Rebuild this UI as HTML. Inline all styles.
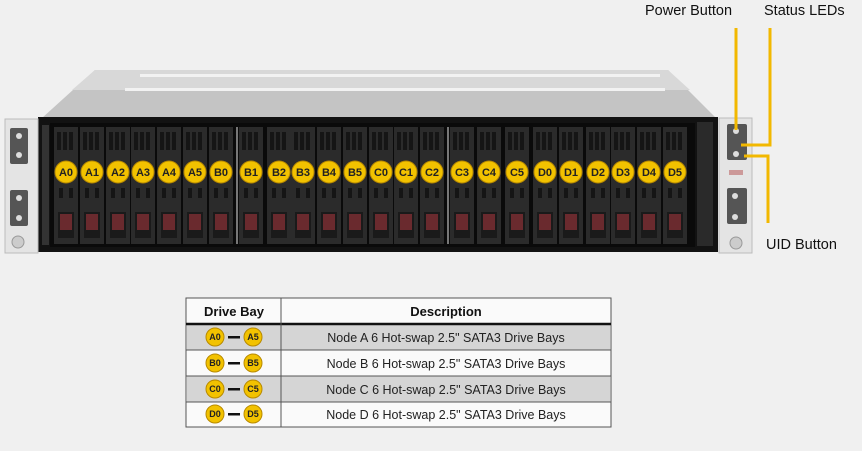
<!DOCTYPE html>
<html><head><style>
html,body{margin:0;padding:0;background:#f0f0f0;}
svg{display:block;font-family:"Liberation Sans",sans-serif;}
</style></head><body>
<svg width="862" height="451" viewBox="0 0 862 451" xmlns="http://www.w3.org/2000/svg">
<defs>
<g id="bay">
<rect x="-12" y="127" width="24" height="117" fill="#2b2b2b"/>
<rect x="-9" y="132" width="4" height="18" fill="#151515"/><rect x="-3" y="132" width="4" height="18" fill="#151515"/><rect x="3" y="132" width="4" height="18" fill="#151515"/>
<rect x="-7" y="188" width="4" height="10" fill="#151515"/><rect x="3" y="188" width="4" height="10" fill="#151515"/>
<rect x="-8" y="212" width="16" height="26" fill="#1a1a1a"/>
<rect x="-6" y="214" width="12" height="16" fill="#6a2a2e"/>
</g>
<g id="bdg"><circle r="11" fill="#f2c200" stroke="#b88a00" stroke-width="1"/></g>
</defs>
<!-- lid -->
<polygon points="42,118 95,70 668,70 716,118" fill="#c4c4c4"/>
<polygon points="95,70 668,70 690,90 72,90" fill="#d8d8d8"/>
<rect x="140" y="74" width="520" height="3" fill="#f2f2f2"/>
<rect x="125" y="88" width="540" height="3" fill="#f2f2f2"/>
<!-- front -->
<rect x="38" y="117" width="680" height="135" fill="#121212"/>
<rect x="50" y="123" width="645" height="124" fill="#0a0a0a"/>
<rect x="42" y="125" width="7" height="120" fill="#333"/>
<rect x="697" y="122" width="16" height="124" fill="#2a2a2a"/>
<!-- ears -->
<rect x="5" y="119" width="33" height="134" fill="#e4e4e4" stroke="#bbb"/>
<rect x="10" y="128" width="18" height="36" rx="2" fill="#555"/>
<rect x="10" y="190" width="18" height="36" rx="2" fill="#555"/>
<circle cx="19" cy="136" r="3" fill="#ddd"/><circle cx="19" cy="155" r="3" fill="#ddd"/>
<circle cx="19" cy="198" r="3" fill="#ddd"/><circle cx="19" cy="218" r="3" fill="#ddd"/>
<circle cx="18" cy="242" r="6" fill="#ccc" stroke="#999"/>
<rect x="719" y="118" width="33" height="135" fill="#e4e4e4" stroke="#bbb"/>
<rect x="727" y="124" width="20" height="36" rx="2" fill="#555"/>
<rect x="727" y="188" width="20" height="36" rx="2" fill="#555"/>
<circle cx="736" cy="131" r="3" fill="#ddd"/><circle cx="736" cy="154" r="3" fill="#ddd"/>
<circle cx="735" cy="196" r="3" fill="#ddd"/><circle cx="735" cy="217" r="3" fill="#ddd"/>
<rect x="729" y="170" width="14" height="5" fill="#c99"/>
<circle cx="736" cy="243" r="6" fill="#ccc" stroke="#999"/>
<!-- bays -->
<use href="#bay" x="66"/><use href="#bay" x="92"/><use href="#bay" x="118"/><use href="#bay" x="143"/><use href="#bay" x="169"/><use href="#bay" x="195"/><use href="#bay" x="221"/>
<rect x="236" y="127" width="2" height="117" fill="#777"/>
<use href="#bay" x="251"/><use href="#bay" x="279"/><use href="#bay" x="303"/><use href="#bay" x="329"/><use href="#bay" x="355"/><use href="#bay" x="381"/><use href="#bay" x="406"/><use href="#bay" x="432"/>
<rect x="447" y="127" width="2" height="117" fill="#777"/>
<use href="#bay" x="462"/><use href="#bay" x="489"/><use href="#bay" x="517"/><use href="#bay" x="545"/><use href="#bay" x="571"/><use href="#bay" x="598"/><use href="#bay" x="623"/><use href="#bay" x="649"/><use href="#bay" x="675"/>
<g>
<use href="#bdg" x="66" y="172"/><use href="#bdg" x="92" y="172"/><use href="#bdg" x="118" y="172"/><use href="#bdg" x="143" y="172"/><use href="#bdg" x="169" y="172"/><use href="#bdg" x="195" y="172"/><use href="#bdg" x="221" y="172"/><use href="#bdg" x="251" y="172"/><use href="#bdg" x="279" y="172"/><use href="#bdg" x="303" y="172"/><use href="#bdg" x="329" y="172"/><use href="#bdg" x="355" y="172"/><use href="#bdg" x="381" y="172"/><use href="#bdg" x="406" y="172"/><use href="#bdg" x="432" y="172"/><use href="#bdg" x="462" y="172"/><use href="#bdg" x="489" y="172"/><use href="#bdg" x="517" y="172"/><use href="#bdg" x="545" y="172"/><use href="#bdg" x="571" y="172"/><use href="#bdg" x="598" y="172"/><use href="#bdg" x="623" y="172"/><use href="#bdg" x="649" y="172"/><use href="#bdg" x="675" y="172"/>
</g>
<g font-size="11" font-weight="bold" fill="#222" text-anchor="middle">
<text x="66" y="176">A0</text><text x="92" y="176">A1</text><text x="118" y="176">A2</text><text x="143" y="176">A3</text><text x="169" y="176">A4</text><text x="195" y="176">A5</text><text x="221" y="176">B0</text><text x="251" y="176">B1</text><text x="279" y="176">B2</text><text x="303" y="176">B3</text><text x="329" y="176">B4</text><text x="355" y="176">B5</text><text x="381" y="176">C0</text><text x="406" y="176">C1</text><text x="432" y="176">C2</text><text x="462" y="176">C3</text><text x="489" y="176">C4</text><text x="517" y="176">C5</text><text x="545" y="176">D0</text><text x="571" y="176">D1</text><text x="598" y="176">D2</text><text x="623" y="176">D3</text><text x="649" y="176">D4</text><text x="675" y="176">D5</text>
</g>
<g stroke="#f2b800" stroke-width="3" fill="none">
<path d="M736 28 V130"/>
<path d="M770 28 V145 H741"/>
<path d="M744 156 H768 V223"/>
</g>
<g font-size="14.5" fill="#111">
<text x="645" y="15">Power Button</text>
<text x="764" y="15">Status LEDs</text>
<text x="766" y="249">UID Button</text>
</g>
<!-- table -->
<rect x="186" y="298" width="425" height="129" fill="#fafafa" stroke="#555"/>
<rect x="187" y="324" width="423" height="26" fill="#d5d5d5"/>
<rect x="187" y="376" width="423" height="26" fill="#d5d5d5"/>
<g stroke="#555" stroke-width="1">
<line x1="186" y1="324" x2="611" y2="324" stroke-width="2.5" stroke="#111"/>
<line x1="186" y1="350" x2="611" y2="350"/>
<line x1="186" y1="376" x2="611" y2="376"/>
<line x1="186" y1="402" x2="611" y2="402"/>
<line x1="281" y1="298" x2="281" y2="427"/>
</g>
<g font-size="13" font-weight="bold" fill="#111" text-anchor="middle">
<text x="234" y="316">Drive Bay</text><text x="446" y="316">Description</text>
</g>
<g>
<circle cx="215" cy="337" r="9" fill="#f2c200" stroke="#b88a00"/><circle cx="253" cy="337" r="9" fill="#f2c200" stroke="#b88a00"/>
<circle cx="215" cy="363" r="9" fill="#f2c200" stroke="#b88a00"/><circle cx="253" cy="363" r="9" fill="#f2c200" stroke="#b88a00"/>
<circle cx="215" cy="389" r="9" fill="#f2c200" stroke="#b88a00"/><circle cx="253" cy="389" r="9" fill="#f2c200" stroke="#b88a00"/>
<circle cx="215" cy="414" r="9" fill="#f2c200" stroke="#b88a00"/><circle cx="253" cy="414" r="9" fill="#f2c200" stroke="#b88a00"/>
<rect x="228" y="336" width="12" height="2.5" fill="#111"/><rect x="228" y="362" width="12" height="2.5" fill="#111"/><rect x="228" y="388" width="12" height="2.5" fill="#111"/><rect x="228" y="413" width="12" height="2.5" fill="#111"/>
</g>
<g font-size="9" font-weight="bold" fill="#222" text-anchor="middle">
<text x="215" y="340">A0</text><text x="253" y="340">A5</text>
<text x="215" y="366">B0</text><text x="253" y="366">B5</text>
<text x="215" y="392">C0</text><text x="253" y="392">C5</text>
<text x="215" y="417">D0</text><text x="253" y="417">D5</text>
</g>
<g font-size="12.5" fill="#222" text-anchor="middle">
<text x="446" y="342">Node A 6 Hot-swap 2.5" SATA3 Drive Bays</text>
<text x="446" y="368">Node B 6 Hot-swap 2.5" SATA3 Drive Bays</text>
<text x="446" y="394">Node C 6 Hot-swap 2.5" SATA3 Drive Bays</text>
<text x="446" y="419">Node D 6 Hot-swap 2.5" SATA3 Drive Bays</text>
</g>
</svg>
</body></html>
